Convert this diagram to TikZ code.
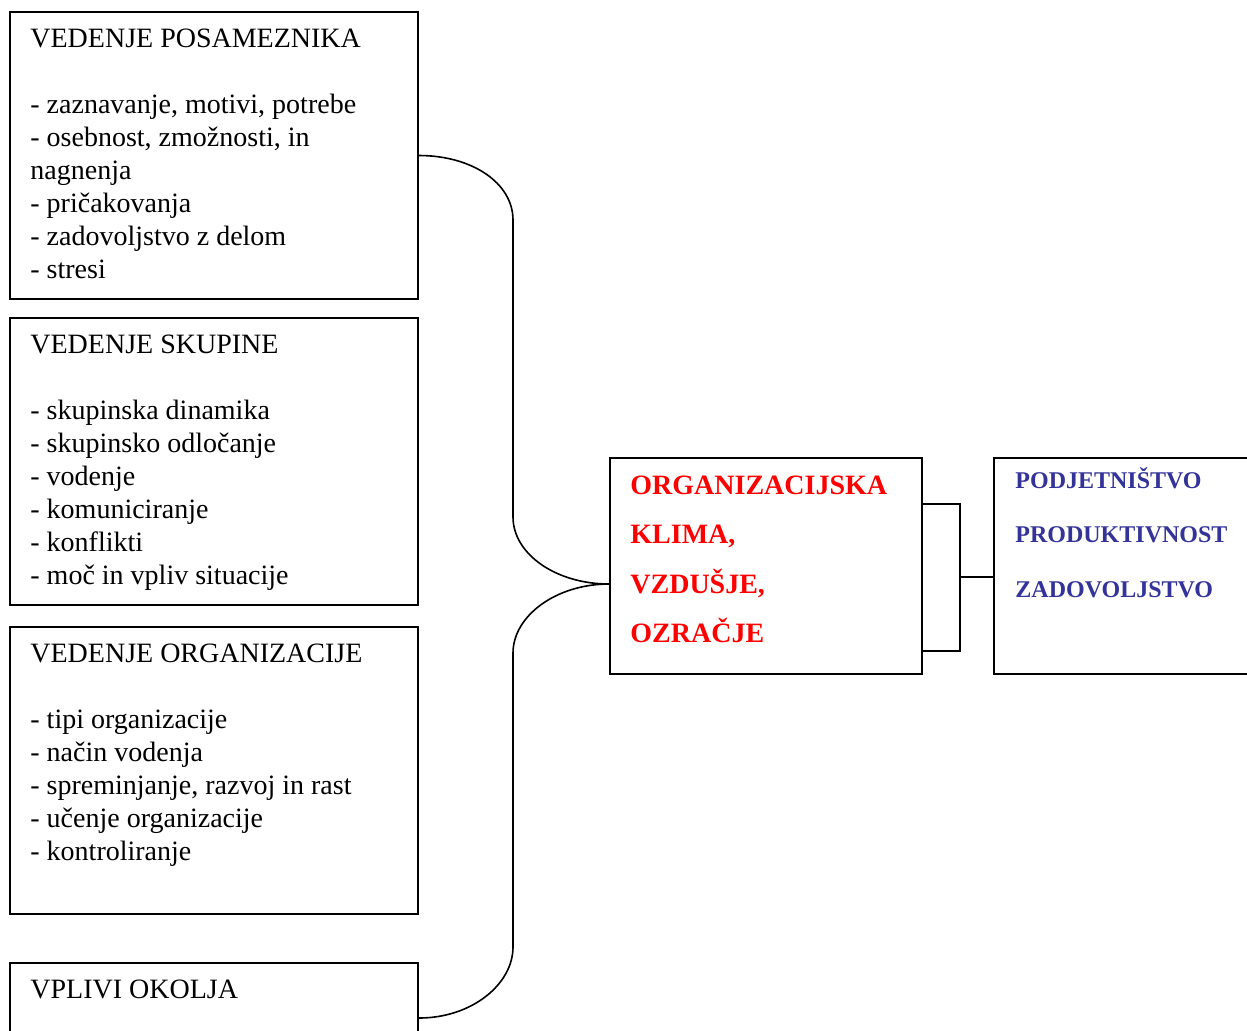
\documentclass[tikz,border=0pt]{standalone}
\usepackage{fontspec}
\setmainfont{Liberation Serif}
\usetikzlibrary{calc}
\definecolor{klimared}{RGB}{255,0,0}
\definecolor{izidblue}{RGB}{51,51,153}
\tikzset{
  box/.style={draw, line width=1pt, anchor=north west, inner sep=0pt},
  bodytext/.style={anchor=north west, inner sep=0pt, align=left,
    font=\fontsize{14}{16.5}\selectfont},
  klimatext/.style={anchor=north west, inner sep=0pt, align=left,
    text=klimared, font=\bfseries\fontsize{14}{24.75}\selectfont},
  izidtext/.style={anchor=north west, inner sep=0pt, align=left,
    text=izidblue, font=\bfseries\fontsize{12}{27.25}\selectfont},
  link/.style={line width=0.8pt},
}

\begin{document}
\begin{tikzpicture}[x=0.5pt, y=-0.5pt]
    \useasboundingbox (0,0) rectangle (1247,1030);
    \clip (0,0) rectangle (1247,1030);
    % levi stolpec
    \node[box, minimum width=204pt, minimum height=143.5pt] (posam) at (9,11) {};
    \node[box, minimum width=204pt, minimum height=143.5pt] (skup) at (9,317) {};
    \node[box, minimum width=204pt, minimum height=143.5pt] (organ) at (9,626) {};
    \node[box, minimum width=204pt, minimum height=55pt] (okolje) at (9,962) {};
    \node[bodytext] (posam-t) at ($(posam.north west)+(21,12.9)$)
        {\strut VEDENJE POSAMEZNIKA\\[16.5pt]
         - zaznavanje, motivi, potrebe\\
         - osebnost, zmožnosti, in\\
         nagnenja\\
         - pričakovanja\\
         - zadovoljstvo z delom\\
         - stresi};
    \node[bodytext] (skup-t) at ($(skup.north west)+(21,12.9)$)
        {\strut VEDENJE SKUPINE\\[16.5pt]
         - skupinska dinamika\\
         - skupinsko odločanje\\
         - vodenje\\
         - komuniciranje\\
         - konflikti\\
         - moč in vpliv situacije};
    \node[bodytext] (organ-t) at ($(organ.north west)+(21,12.9)$)
        {\strut VEDENJE ORGANIZACIJE\\[16.5pt]
         - tipi organizacije\\
         - način vodenja\\
         - spreminjanje, razvoj in rast\\
         - učenje organizacije\\
         - kontroliranje};
    \node[bodytext] (okolje-t) at ($(okolje.north west)+(21,12.9)$)
        {\strut VPLIVI OKOLJA};
    % sredina in desno
    \node[box, minimum width=156pt, minimum height=108pt] (klima) at (609,457) {};
    \node[klimatext] (klima-t) at ($(klima.north west)+(21,2.4)$)
        {\strut ORGANIZACIJSKA\\ KLIMA,\\ VZDUŠJE,\\ OZRAČJE};
    \node[box, minimum width=135pt, minimum height=108pt] (izid) at (993,457) {};
    \node[izidtext] (izid-t) at ($(izid.north west)+(22,-7.2)$)
        {\strut PODJETNIŠTVO\\ PRODUKTIVNOST\\ ZADOVOLJSTVO};
    % zaviti oklepaj
    \coordinate (stik) at ($(klima.north west)+(0,127)$);
    \draw[link] (posam.east) .. controls +(53,0) and +(0,-37) .. (513,220)
        -- (513,517) .. controls +(0,37) and +(-53,0) .. (stik);
    \draw[link] (stik) .. controls +(-53,0) and +(0,-37) .. (513,653)
        -- (513,947) .. controls +(0,37) and +(53,0) .. (okolje.east);
    % oglati oklepaj
    \coordinate (kl-a) at ($(klima.north east)+(0,47)$);
    \coordinate (kl-b) at ($(klima.south east)+(0,-24)$);
    \coordinate (kol) at ($(kl-a)+(37,73)$);
    \draw[link] (kl-a) -- ++(37,0) |- (kl-b);
    \draw[link] (kol) -- (kol -| izid.west);
\end{tikzpicture}
\end{document}
